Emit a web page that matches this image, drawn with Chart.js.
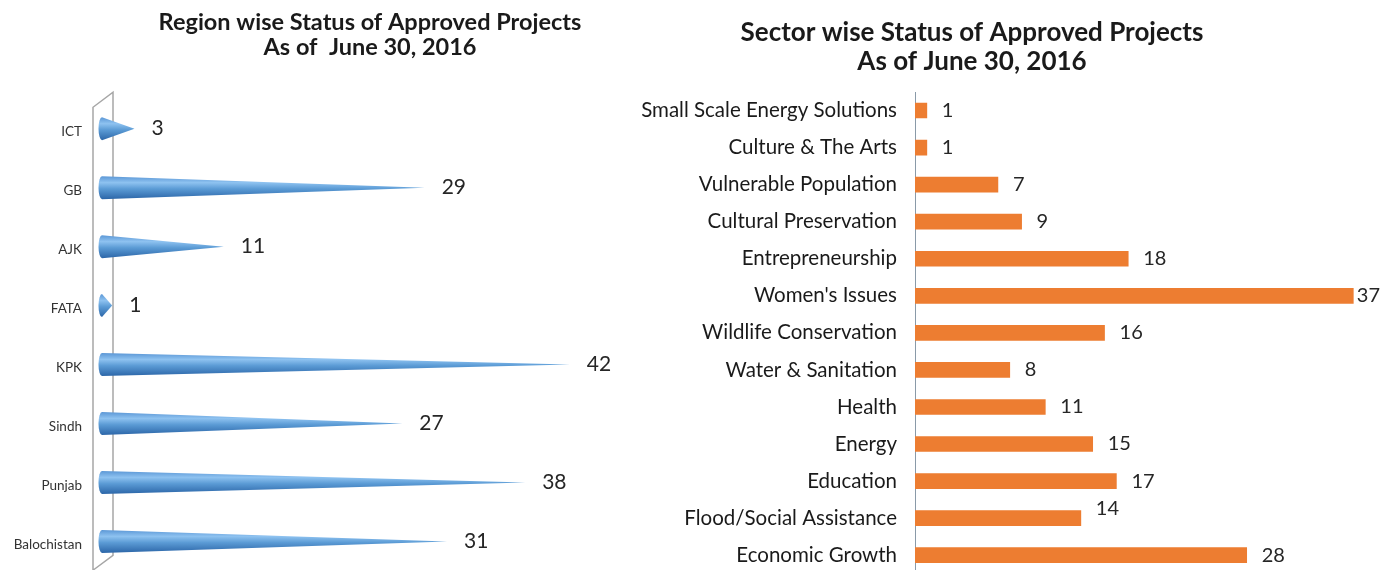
<!DOCTYPE html>
<html><head><meta charset="utf-8">
<script src="https://cdn.jsdelivr.net/npm/chart.js@4.4.1/dist/chart.umd.min.js"></script>
<style>
html,body{margin:0;padding:0;background:#fff;width:1384px;height:570px;overflow:hidden}
#wrap{position:relative;width:1384px;height:570px;overflow:hidden;background:#fff}
#c1{position:absolute;left:0;top:0}
#c2{position:absolute;left:567px;top:0}
</style></head><body>
<div id="wrap"><canvas id="c1" width="645" height="598"></canvas><canvas id="c2" width="817" height="604"></canvas></div>
<script>
const regionLabels = ['ICT','GB','AJK','FATA','KPK','Sindh','Punjab','Balochistan'];
const regionValues = [3,29,11,1,42,27,38,31];
const sectorLabels = ['Small Scale Energy Solutions','Culture & The Arts','Vulnerable Population','Cultural Preservation','Entrepreneurship',"Women's Issues",'Wildlife Conservation','Water & Sanitation','Health','Energy','Education','Flood/Social Assistance','Economic Growth'];
const sectorValues = [1,1,7,9,18,37,16,8,11,15,17,14,28];
const regionTitle = ['Region wise Status of Approved Projects','As of  June 30, 2016'];
const sectorTitle = ['Sector wise Status of Approved Projects','As of June 30, 2016'];

Chart.defaults.font.family = 'Lato, "Open Sans", sans-serif';
Chart.defaults.color = '#262626';

const valueLabels = {
  id:'valueLabels',
  afterDatasetsDraw(chart, args, opts){
    const ctx=chart.ctx, meta=chart.getDatasetMeta(0), data=chart.data.datasets[0].data;
    ctx.save();
    ctx.font=opts.font; ctx.fillStyle=opts.color; ctx.textBaseline='middle'; ctx.textAlign='left';
    meta.data.forEach((bar,i)=>{
      const txt=String(data[i]);
      const w=ctx.measureText(txt).width;
      let x=bar.x+opts.gap;
      x=Math.min(x, chart.width-w-opts.edge);
      const dy=(opts.offsets&&opts.offsets[i])||0;
      ctx.fillText(txt,x,bar.y+dy);
    });
    ctx.restore();
  }
};

const wall = {
  id:'wall',
  beforeDatasetsDraw(chart){
    const ctx=chart.ctx, a=chart.chartArea;
    const xl=a.left-8, xr=a.left+12;
    ctx.save();
    ctx.strokeStyle='#a6a6a6'; ctx.lineWidth=1.5;
    ctx.beginPath();
    ctx.moveTo(xl, chart.height);
    ctx.lineTo(xl, a.top+8);
    ctx.lineTo(xr, a.top-7);
    ctx.lineTo(xr, a.top+456);
    ctx.lineTo(xl, a.top+471);
    ctx.stroke();
    ctx.restore();
  }
};

const cones = {
  id:'cones',
  afterDatasetsDraw(chart){
    const ctx=chart.ctx, meta=chart.getDatasetMeta(0);
    ctx.save();
    meta.data.forEach(bar=>{
      const p=bar.getProps(['x','y','base','height'],true);
      const h=p.height/2, b=p.base+1, y=p.y;
      const g=ctx.createLinearGradient(0,y-h,0,y+h);
      g.addColorStop(0,'#5b97d6');
      g.addColorStop(0.28,'#8ec2f0');
      g.addColorStop(0.55,'#5b9bd5');
      g.addColorStop(1,'#2c66a8');
      ctx.fillStyle=g;
      ctx.beginPath();
      ctx.moveTo(b,y-h);
      ctx.lineTo(p.x,y);
      ctx.lineTo(b,y+h);
      ctx.ellipse(b,y,3.5,h,0,Math.PI/2,3*Math.PI/2,false);
      ctx.closePath();
      ctx.fill();
    });
    ctx.restore();
  }
};

new Chart(document.getElementById('c1'),{
  type:'bar',
  data:{labels:regionLabels,datasets:[{data:regionValues,backgroundColor:'rgba(0,0,0,0)',borderWidth:0,barThickness:23}]},
  options:{
    indexAxis:'y',responsive:false,animation:false,
    layout:{padding:{left:0,right:6,top:0,bottom:10}},
    scales:{
      x:{display:false,min:0,max:48.2},
      y:{grid:{display:false,drawTicks:false},border:{display:false},
         ticks:{padding:19,labelOffset:3,font:{size:13.5},color:'#333'},
         afterFit(s){s.width=101;}}
    },
    plugins:{
      legend:{display:false},tooltip:{enabled:false},
      title:{display:true,fullSize:false,text:regionTitle,color:'#1a1a1a',
        font:{size:23.5,weight:'bold',lineHeight:25/23.5},padding:{top:9.5,bottom:39.75}},
      valueLabels:{font:'21px Lato',color:'#262626',gap:17,edge:2}
    }
  },
  plugins:[wall,cones,valueLabels]
});

new Chart(document.getElementById('c2'),{
  type:'bar',
  data:{labels:sectorLabels,datasets:[{data:sectorValues,backgroundColor:'#ed7d31',borderWidth:0,barThickness:15}]},
  options:{
    indexAxis:'y',responsive:false,animation:false,
    layout:{padding:{left:0,right:7,top:0,bottom:10}},
    scales:{
      x:{display:false,min:0,max:39},
      y:{grid:{display:false,drawTicks:false},border:{display:true,color:'#8a9aa8',width:1},
         ticks:{padding:18,font:{size:20.5},color:'#1a1a1a'},
         afterFit(s){s.width=348;}}
    },
    plugins:{
      legend:{display:false},tooltip:{enabled:false},
      title:{display:true,fullSize:true,text:sectorTitle,color:'#1a1a1a',
        font:{size:26,weight:'bold',lineHeight:29/26},padding:{top:18,bottom:16}},
      valueLabels:{font:'20px Lato',color:'#262626',gap:15,edge:4,offsets:{11:-10}}
    }
  },
  plugins:[valueLabels]
});
</script>
</body></html>
